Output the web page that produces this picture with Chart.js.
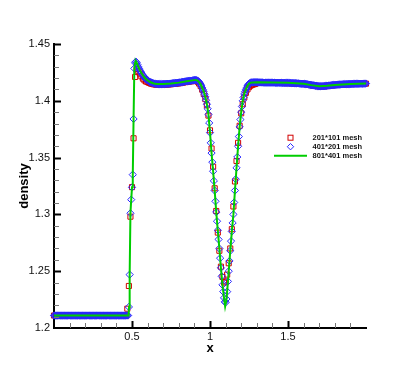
<!DOCTYPE html>
<html><head><meta charset="utf-8">
<script src="https://cdn.jsdelivr.net/npm/chart.js@4.4.1/dist/chart.umd.min.js"></script>
<style>html,body{margin:0;padding:0;background:#fff;}#c{display:block;}</style>
</head><body>
<canvas id="c" width="415" height="369"></canvas>
<script>
// mesh spacings (x of node i = i * step)
const coarseStep = 0.01;   // 201*101 mesh
const mediumStep = 0.005;  // 401*201 mesh

const coarseDensity = [
1.211,1.211,1.211,1.211,1.211,1.211,1.211,1.211,1.211,1.211,
1.211,1.211,1.211,1.211,1.211,1.211,1.211,1.211,1.211,1.211,
1.211,1.211,1.211,1.211,1.211,1.211,1.211,1.211,1.211,1.211,
1.211,1.211,1.211,1.211,1.211,1.211,1.211,1.211,1.211,1.211,
1.211,1.211,1.211,1.211,1.211,1.211,1.211,1.217,1.237,1.298,
1.324,1.367,1.421,1.428,1.426,1.424,1.4215,1.4195,1.418,1.417,
1.4165,1.4158,1.4152,1.4148,1.4145,1.4143,1.4142,1.4141,1.4141,1.4141,
1.4141,1.4142,1.4143,1.4144,1.4145,1.4146,1.4148,1.415,1.4151,1.4153,
1.4154,1.4156,1.4159,1.4161,1.4164,1.4166,1.4168,1.417,1.4172,1.4174,
1.4176,1.4176,1.4168,1.4152,1.413,1.4098,1.406,1.4015,1.396,1.387,
1.374,1.358,1.342,1.323,1.303,1.284,1.268,1.254,1.245,1.240,
1.241,1.247,1.257,1.270,1.287,1.307,1.329,1.347,1.363,1.378,
1.389,1.397,1.403,1.407,1.410,1.412,1.4133,1.414,1.4145,1.4148,
1.4160,1.4161,1.4161,1.4160,1.4160,1.4159,1.4159,1.4159,1.4159,1.4159,
1.4158,1.4158,1.4158,1.4157,1.4157,1.4157,1.4157,1.4157,1.4156,1.4156,
1.4156,1.4156,1.4155,1.4154,1.4153,1.4152,1.4151,1.4150,1.4149,1.4149,
1.4149,1.4147,1.4145,1.4143,1.4140,1.4137,1.4135,1.4133,1.4131,1.4129,
1.4127,1.4127,1.4127,1.4128,1.4129,1.4131,1.4133,1.4134,1.4136,1.4138,
1.4139,1.4140,1.4141,1.4142,1.4143,1.4144,1.4145,1.4145,1.4146,1.4147,
1.4147,1.4148,1.4148,1.4149,1.4149,1.4149,1.4150,1.4150,1.4151,1.4151,
1.4151
];

const mediumDensity = [
1.211,1.211,1.211,1.211,1.211,1.211,1.211,1.211,1.211,1.211,
1.211,1.211,1.211,1.211,1.211,1.211,1.211,1.211,1.211,1.211,
1.211,1.211,1.211,1.211,1.211,1.211,1.211,1.211,1.211,1.211,
1.211,1.211,1.211,1.211,1.211,1.211,1.211,1.211,1.211,1.211,
1.211,1.211,1.211,1.211,1.211,1.211,1.211,1.211,1.211,1.211,
1.211,1.211,1.211,1.211,1.211,1.211,1.211,1.211,1.211,1.211,
1.211,1.211,1.211,1.211,1.211,1.211,1.211,1.211,1.211,1.211,
1.211,1.211,1.211,1.211,1.211,1.211,1.211,1.211,1.211,1.211,
1.211,1.211,1.211,1.211,1.211,1.211,1.211,1.211,1.211,1.211,
1.211,1.211,1.211,1.211,1.211,1.211,1.2185,1.247,1.301,1.313,
1.3238,1.335,1.384,1.4285,1.4334,1.4345,1.4335,1.4318,1.4300,1.4285,
1.4270,1.4257,1.4245,1.4235,1.4225,1.4215,1.4205,1.4197,1.4190,1.4185,
1.4180,1.4175,1.4170,1.4166,1.4163,1.4160,1.4157,1.4155,1.4153,1.4151,
1.4150,1.4149,1.4148,1.4148,1.4147,1.4147,1.4147,1.4147,1.4147,1.4147,
1.4147,1.4148,1.4148,1.4149,1.4149,1.4150,1.4150,1.4151,1.4151,1.4152,
1.4152,1.4153,1.4154,1.4155,1.4156,1.4157,1.4157,1.4158,1.4159,1.4160,
1.4160,1.4161,1.4162,1.4164,1.4165,1.4166,1.4167,1.4168,1.4170,1.4171,
1.4172,1.4173,1.4174,1.4175,1.4176,1.4177,1.4178,1.4179,1.4180,1.4181,
1.4182,1.4183,1.4183,1.4181,1.4178,1.4172,1.4165,1.4156,1.4145,1.4131,
1.4115,1.4098,1.4080,1.4058,1.4035,1.4005,1.3970,1.3930,1.3880,1.3805,
1.3720,1.3630,1.3540,1.3460,1.3380,1.3295,1.3210,1.3115,1.3020,1.2940,
1.2860,1.2780,1.2700,1.2615,1.2530,1.2455,1.2380,1.2320,1.2265,1.2230,
1.2225,1.2255,1.2320,1.2410,1.2500,1.2590,1.2680,1.2765,1.2850,1.2925,
1.3000,1.3105,1.3210,1.3310,1.3410,1.3505,1.3600,1.3685,1.3770,1.3835,
1.3900,1.3950,1.4000,1.4030,1.4060,1.4080,1.4100,1.4115,1.4130,1.4140,
1.4150,1.4155,1.4160,1.4161,1.4162,1.4162,1.4163,1.4163,1.4163,1.4163,
1.4163,1.4163,1.4162,1.4162,1.4162,1.4161,1.4161,1.4161,1.4161,1.4160,
1.4160,1.4160,1.4160,1.4160,1.4160,1.4160,1.4160,1.4160,1.4160,1.4160,
1.4160,1.4160,1.4160,1.4160,1.4159,1.4159,1.4159,1.4159,1.4159,1.4159,
1.4159,1.4159,1.4158,1.4158,1.4158,1.4158,1.4158,1.4158,1.4158,1.4158,
1.4158,1.4157,1.4157,1.4157,1.4156,1.4156,1.4156,1.4155,1.4155,1.4155,
1.4154,1.4154,1.4153,1.4153,1.4152,1.4152,1.4151,1.4151,1.4150,1.4150,
1.4150,1.4149,1.4148,1.4147,1.4146,1.4145,1.4144,1.4142,1.4141,1.4140,
1.4138,1.4137,1.4136,1.4135,1.4134,1.4133,1.4132,1.4131,1.4130,1.4129,
1.4128,1.4128,1.4128,1.4128,1.4128,1.4129,1.4129,1.4130,1.4131,1.4131,
1.4132,1.4133,1.4134,1.4134,1.4135,1.4136,1.4137,1.4138,1.4139,1.4139,
1.4140,1.4141,1.4141,1.4142,1.4142,1.4143,1.4143,1.4144,1.4144,1.4144,
1.4145,1.4145,1.4146,1.4146,1.4146,1.4147,1.4147,1.4147,1.4148,1.4148,
1.4148,1.4148,1.4149,1.4149,1.4149,1.4149,1.4150,1.4150,1.4150,1.4150,
1.4150,1.4150,1.4151,1.4151,1.4151,1.4151,1.4151,1.4152,1.4152,1.4152,
1.4152
];

const fineX = [0,0.478,0.481,0.485,0.49,0.495,0.5,0.505,0.51,0.515,
0.52,0.524,0.53,0.54,0.55,0.56,0.57,0.58,0.59,0.6,
0.62,0.64,0.66,0.7,0.75,0.8,0.85,0.9,0.91,0.92,
0.93,0.94,0.95,0.96,0.97,0.98,0.99,1.0,1.01,1.02,
1.03,1.04,1.05,1.06,1.07,1.08,1.09,1.097,1.105,1.11,
1.12,1.13,1.14,1.15,1.16,1.17,1.18,1.19,1.2,1.21,
1.22,1.23,1.24,1.25,1.26,1.3,1.4,1.5,1.6,1.65,
1.7,1.75,1.8,1.9,2.0];
const fineDensity = [1.211,1.211,1.2185,1.247,1.301,1.313,1.3238,1.335,1.384,1.4285,
1.4334,1.435,1.4335,1.430,1.427,1.4245,1.4225,1.4205,1.419,1.418,
1.4163,1.4153,1.4148,1.4147,1.4152,1.416,1.4172,1.4182,1.4183,1.4178,
1.4165,1.4145,1.4115,1.408,1.4035,1.397,1.388,1.372,1.354,1.338,
1.321,1.302,1.286,1.27,1.253,1.238,1.226,1.219,1.2245,1.232,
1.25,1.268,1.285,1.30,1.321,1.341,1.36,1.377,1.39,1.40,
1.406,1.41,1.413,1.415,1.416,1.4163,1.416,1.4158,1.415,1.4138,
1.4128,1.4132,1.414,1.4148,1.4152];

const seriesNames = ['201*101 mesh', '401*201 mesh', '801*401 mesh'];
const yTickValues = [1.2, 1.25, 1.3, 1.35, 1.4, 1.45];
const xTickValues = [0.5, 1, 1.5];

const RED = 'rgb(210,0,0)', BLUE = 'rgb(40,40,255)', GREEN = 'rgb(0,205,0)';

const coarsePts = coarseDensity.map((v, i) => ({x: +(i * coarseStep).toFixed(4), y: v}));
const mediumPts = mediumDensity.map((v, i) => ({x: +(i * mediumStep).toFixed(4), y: v}));
const finePts = fineX.map((x, i) => ({x: x, y: fineDensity[i]}));

Chart.defaults.font.family = '"Liberation Sans", Arial, sans-serif';
Chart.defaults.color = '#000';

const innerTicks = {
  id: 'innerTicks',
  afterDraw(chart) {
    const {ctx, scales: {x, y}} = chart;
    const x0 = x.left, yb = y.bottom;
    ctx.save();
    for (let k = 1; k <= 25; k++) {
      const v = 1.2 + k * 0.01;
      const py = Math.round(y.getPixelForValue(v)) + 0.5;
      const major = k % 5 === 0;
      ctx.strokeStyle = major ? '#000' : '#777';
      ctx.lineWidth = major ? 2 : 1;
      ctx.beginPath();
      ctx.moveTo(x0, py);
      ctx.lineTo(x0 + (major ? 7 : 5), py);
      ctx.stroke();
    }
    for (let k = 1; k <= 19; k++) {
      const v = k * 0.1;
      const px = Math.round(x.getPixelForValue(v)) + 0.5;
      const major = k % 5 === 0;
      ctx.strokeStyle = major ? '#000' : '#777';
      ctx.lineWidth = major ? 2 : 1;
      ctx.beginPath();
      ctx.moveTo(px, yb);
      ctx.lineTo(px, yb - (major ? 7 : 5));
      ctx.stroke();
    }
    ctx.restore();
  }
};

const customLegend = {
  id: 'customLegend',
  afterDraw(chart) {
    const ctx = chart.ctx;
    ctx.save();
    const mx = 290.5, tx = 312.5;
    const rows = [137.7, 146.7, 155.7];
    ctx.lineWidth = 1;
    ctx.strokeStyle = RED;
    ctx.strokeRect(mx - 2.5, rows[0] - 2.5, 5, 5);
    ctx.strokeStyle = BLUE;
    ctx.beginPath();
    ctx.moveTo(mx, rows[1] - 3.2); ctx.lineTo(mx + 3.2, rows[1]);
    ctx.lineTo(mx, rows[1] + 3.2); ctx.lineTo(mx - 3.2, rows[1]); ctx.closePath();
    ctx.stroke();
    ctx.strokeStyle = GREEN; ctx.lineWidth = 2;
    ctx.beginPath(); ctx.moveTo(274, rows[2]); ctx.lineTo(307, rows[2]); ctx.stroke();
    ctx.fillStyle = '#111';
    ctx.font = 'bold 7.5px "Liberation Sans", Arial, sans-serif';
    ctx.textBaseline = 'middle';
    ctx.textAlign = 'left';
    seriesNames.forEach((n, i) => ctx.fillText(n, tx, rows[i]));
    ctx.restore();
  }
};

new Chart(document.getElementById('c'), {
  type: 'scatter',
  data: {
    datasets: [
      {label: seriesNames[2], data: finePts, showLine: true, borderColor: GREEN, borderWidth: 2,
       pointRadius: 0, tension: 0, order: 0, clip: false},
      {label: seriesNames[1], data: mediumPts, pointStyle: 'rectRot', pointRadius: 3.6,
       borderColor: BLUE, backgroundColor: 'rgba(0,0,0,0)', pointBorderWidth: 1, order: 1, clip: false},
      {label: seriesNames[0], data: coarsePts, pointStyle: 'rect', pointRadius: 3.6,
       borderColor: RED, backgroundColor: 'rgba(0,0,0,0)', pointBorderWidth: 1, order: 2, clip: false}
    ]
  },
  options: {
    responsive: false,
    animation: false,
    devicePixelRatio: 1,
    layout: {padding: {left: 0, right: 49, top: 44, bottom: 0}},
    plugins: {legend: {display: false}, tooltip: {enabled: false}},
    scales: {
      x: {
        type: 'linear', min: 0, max: 2,
        afterBuildTicks: s => { s.ticks = xTickValues.map(v => ({value: v})); },
        afterFit: s => { s.height = 41; },
        grid: {display: false, drawTicks: false},
        border: {display: true, color: '#000', width: 2},
        ticks: {padding: 2, font: {size: 11}, color: '#111', callback: v => String(v), maxRotation: 0},
        title: {display: true, text: 'x', font: {size: 13, weight: 'bold'}, color: '#000', padding: {top: 0, bottom: 13}}
      },
      y: {
        type: 'linear', min: 1.2, max: 1.45,
        afterBuildTicks: s => { s.ticks = yTickValues.map(v => ({value: v})); },
        afterFit: s => { s.width = 54; },
        grid: {display: false, drawTicks: false},
        border: {display: true, color: '#000', width: 2},
        ticks: {padding: 4, font: {size: 11}, color: '#111', callback: v => String(v)},
        title: {display: true, text: 'density', font: {size: 13, weight: 'bold'}, color: '#000', padding: {top: 17, bottom: 0}}
      }
    }
  },
  plugins: [innerTicks, customLegend]
});
</script>
</body></html>
